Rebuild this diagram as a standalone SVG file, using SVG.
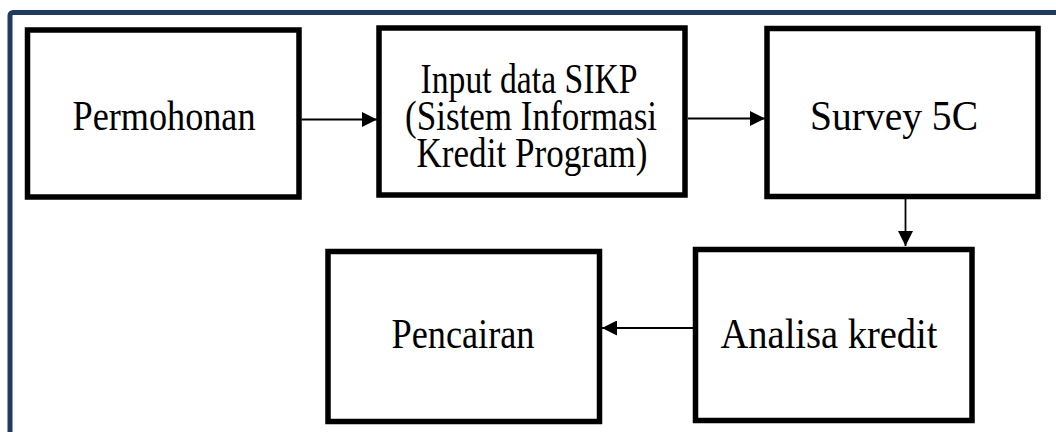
<svg xmlns="http://www.w3.org/2000/svg" width="1056" height="432" viewBox="0 0 1056 432">
<style>
.frame{fill:none;stroke:#203a60;stroke-width:5}
.box{fill:#ffffff;stroke:#000000;stroke-width:5.5}
.lbl{font-family:"Liberation Serif","Times New Roman",serif;font-size:33px;fill:#000000;text-anchor:middle}
.conn{stroke:#000000;stroke-width:1.8;fill:none}
</style>
<defs>
<marker id="ah" markerUnits="userSpaceOnUse" markerWidth="15" markerHeight="15" refX="14" refY="7" orient="auto" viewBox="0 0 14 14">
<path d="M0,0 L14,7 L0,14 Z" fill="#000000"/>
</marker>
</defs>
<rect width="1056" height="432" fill="#ffffff"/>
<rect class="frame" x="10" y="12.5" width="1070" height="450" rx="3"/>
<g id="n1">
<rect class="box" x="27.5" y="30" width="271.5" height="167"/>
<text class="lbl" transform="translate(164,130) scale(1,1.25)" textLength="183" lengthAdjust="spacingAndGlyphs">Permohonan</text>
</g>
<g id="n2">
<rect class="box" x="379" y="28" width="306" height="167"/>
<text class="lbl" transform="translate(529,93) scale(1,1.25)" textLength="217" lengthAdjust="spacingAndGlyphs">Input data SIKP</text>
<text class="lbl" transform="translate(531,130) scale(1,1.25)" textLength="252" lengthAdjust="spacingAndGlyphs">(Sistem Informasi</text>
<text class="lbl" transform="translate(532,167) scale(1,1.25)" textLength="231" lengthAdjust="spacingAndGlyphs">Kredit Program)</text>
</g>
<g id="n3">
<rect class="box" x="767" y="28.5" width="271" height="168"/>
<text class="lbl" transform="translate(894,130) scale(1,1.25)" textLength="168" lengthAdjust="spacingAndGlyphs">Survey 5C</text>
</g>
<g id="n4">
<rect class="box" x="328" y="251.5" width="271.5" height="170"/>
<text class="lbl" transform="translate(463,348) scale(1,1.25)" textLength="143" lengthAdjust="spacingAndGlyphs">Pencairan</text>
</g>
<g id="n5">
<rect class="box" x="695.5" y="249.5" width="276.5" height="171"/>
<text class="lbl" transform="translate(829,348) scale(1,1.25)" textLength="217" lengthAdjust="spacingAndGlyphs">Analisa kredit</text>
</g>
<g id="connectors">
<line class="conn" x1="301.5" y1="119.5" x2="377" y2="119.5" marker-end="url(#ah)"/>
<line class="conn" x1="688" y1="118.5" x2="765" y2="118.5" marker-end="url(#ah)"/>
<line class="conn" x1="905.5" y1="199" x2="905.5" y2="246" marker-end="url(#ah)"/>
<line class="conn" x1="693" y1="328" x2="602" y2="328" marker-end="url(#ah)"/>
</g>
</svg>
